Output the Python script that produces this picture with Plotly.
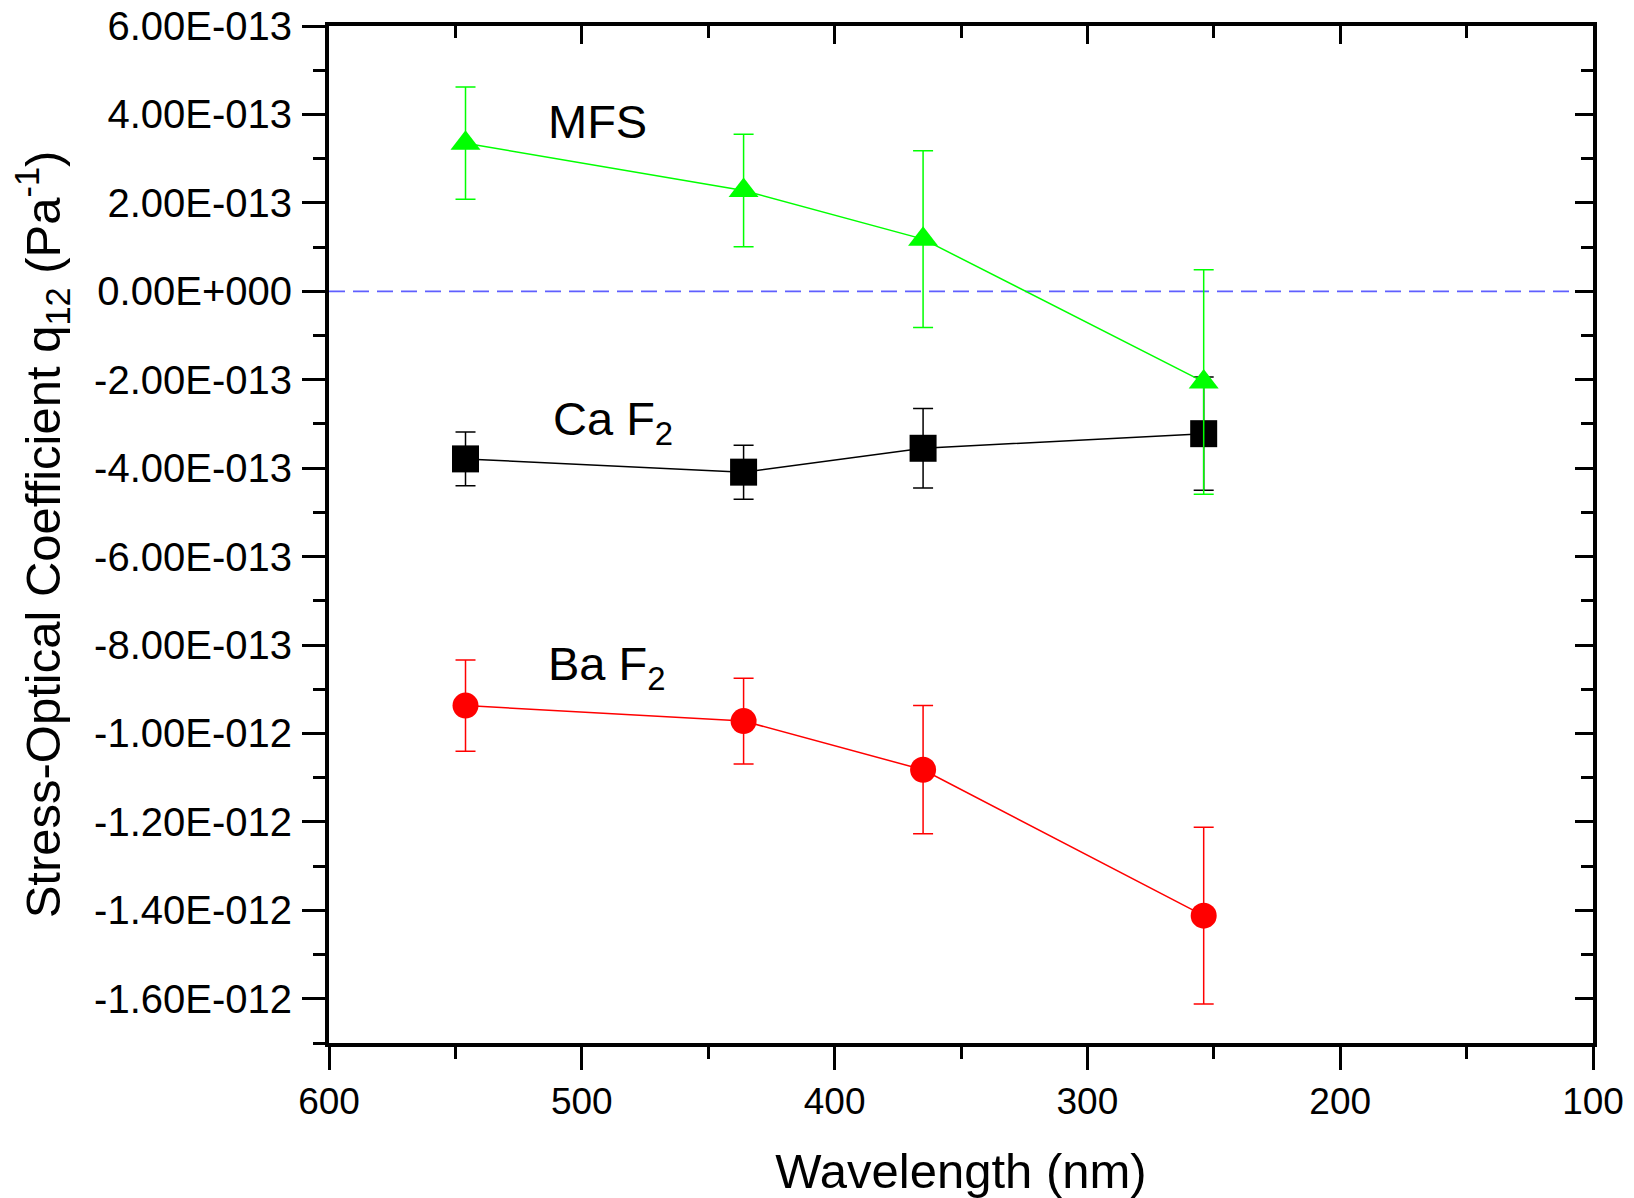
import plotly.graph_objects as go

# ---- data ----
wavelength = [546, 436, 365, 254]

mfs_q12 = [3.35e-13, 2.28e-13, 1.18e-13, -2.05e-13]
mfs_err = [1.27e-13, 1.27e-13, 2.0e-13, 2.54e-13]

caf2_q12 = [-3.79e-13, -4.09e-13, -3.55e-13, -3.22e-13]
caf2_err = [0.61e-13, 0.61e-13, 0.90e-13, 1.28e-13]

baf2_q12 = [-9.37e-13, -9.72e-13, -1.082e-12, -1.412e-12]
baf2_err = [1.03e-13, 0.97e-13, 1.45e-13, 2.0e-13]

y_tickvals = [6e-13, 4e-13, 2e-13, 0, -2e-13, -4e-13, -6e-13, -8e-13,
              -1.0e-12, -1.2e-12, -1.4e-12, -1.6e-12]
y_ticktext = ["6.00E-013", "4.00E-013", "2.00E-013", "0.00E+000", "-2.00E-013",
              "-4.00E-013", "-6.00E-013", "-8.00E-013", "-1.00E-012",
              "-1.20E-012", "-1.40E-012", "-1.60E-012"]
x_tickvals = [600, 500, 400, 300, 200, 100]

labels = ["MFS", "Ca F<sub>2</sub>", "Ba F<sub>2</sub>"]
label_x = [514, 512, 514]
label_y = [3.85e-13, -2.95e-13, -8.50e-13]

x_range = [600, 100]
y_range = [-1.7e-12, 6e-13]

FONT = "Liberation Sans, Arial, sans-serif"

fig = go.Figure()


def add_series(y, err, color, symbol, size):
    fig.add_trace(go.Scatter(
        x=wavelength, y=y, mode="lines+markers",
        line=dict(color=color, width=1.5),
        marker=dict(symbol=symbol, size=size, color=color, line=dict(width=0)),
        error_y=dict(type="data", array=err, visible=True, color=color,
                     thickness=1.5, width=10),
        showlegend=False,
    ))


add_series(baf2_q12, baf2_err, "#ff0000", "circle", 26)
add_series(caf2_q12, caf2_err, "#000000", "square", 27)
add_series(mfs_q12, mfs_err, "#00ff00", "triangle-up", 26)

# zero reference line
fig.add_shape(type="line", xref="paper", x0=0, x1=1, yref="y", y0=0, y1=0,
              line=dict(color="rgb(95,95,255)", width=1.8, dash="16px,8px"),
              layer="below")

for t, lx, ly in zip(labels, label_x, label_y):
    fig.add_annotation(x=lx, y=ly, text=t, showarrow=False, xanchor="left",
                       yanchor="middle", font=dict(family=FONT, size=47, color="black"))

axis_common = dict(showgrid=False, zeroline=False, linecolor="black", linewidth=4,
                   tickcolor="black", tickwidth=3, automargin=False)

# the page body adds an 8px offset, so the figure is sized/margined to compensate
fig.update_layout(
    width=1626, height=1190,
    margin=dict(l=321, r=41, t=18, b=155),
    plot_bgcolor="white", paper_bgcolor="white",
    font=dict(family=FONT, color="black"),
    xaxis=dict(range=x_range, tickmode="array", tickvals=x_tickvals,
               ticks="outside", ticklen=23, showline=True, mirror=True,
               tickfont=dict(size=37), ticklabelstandoff=0, ticklabeloverflow="allow",
               minor=dict(tickmode="linear", tick0=0, dtick=50, ticks="outside",
                          ticklen=12, tickwidth=3, tickcolor="black"),
               title=dict(text="Wavelength (nm)", font=dict(size=49), standoff=41),
               **axis_common),
    yaxis=dict(range=y_range, tickmode="array", tickvals=y_tickvals,
               ticktext=y_ticktext, ticks="outside", ticklen=23, showline=True,
               mirror=True, tickfont=dict(size=40), ticklabelstandoff=2,
               ticklabeloverflow="allow",
               minor=dict(tickmode="linear", tick0=0, dtick=1e-13, ticks="outside",
                          ticklen=12, tickwidth=3, tickcolor="black"),
               title=dict(text="Stress-Optical Coefficient q<sub>12</sub> (Pa<sup>-1</sup>)",
                          font=dict(size=49), standoff=26),
               **axis_common),
    xaxis2=dict(range=x_range, overlaying="x", anchor="y", side="top",
                tickmode="array", tickvals=x_tickvals, ticks="inside", ticklen=18,
                showticklabels=False,
                minor=dict(tickmode="linear", tick0=0, dtick=50, ticks="inside",
                           ticklen=12, tickwidth=3, tickcolor="black"),
                **axis_common),
    yaxis2=dict(range=y_range, overlaying="y", anchor="x", side="right",
                tickmode="array", tickvals=y_tickvals, ticks="inside", ticklen=18,
                showticklabels=False,
                minor=dict(tickmode="linear", tick0=0, dtick=1e-13, ticks="inside",
                           ticklen=12, tickwidth=3, tickcolor="black"),
                **axis_common),
)

# invisible anchor trace so the mirrored (inside-tick) axes are drawn
fig.add_trace(go.Scatter(x=[None], y=[None], xaxis="x2", yaxis="y2",
                         showlegend=False, hoverinfo="skip"))

fig.write_html("out.html")
